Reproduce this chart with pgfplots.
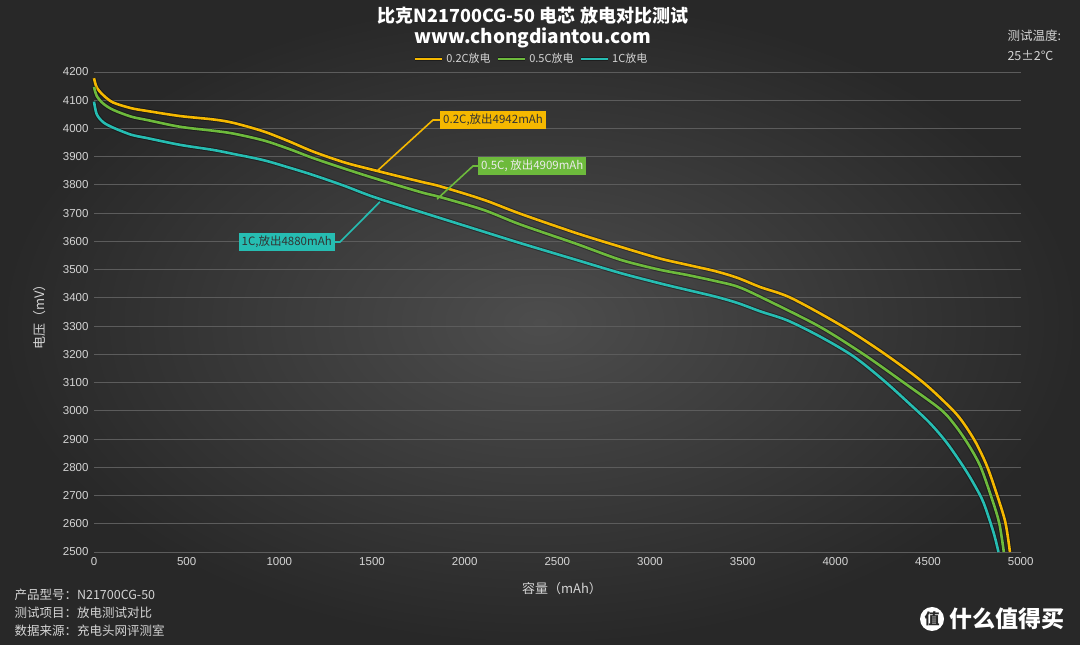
\documentclass[border=0pt]{standalone}
\usepackage{pgfplots}
\pgfplotsset{compat=1.18}
\usepackage{fontspec}
\setmainfont{Liberation Sans}
\newfontfamily\cjk{Noto Sans CJK SC}
\definecolor{bgin}{HTML}{4D4D4D}
\definecolor{bgout}{HTML}{282828}
\definecolor{gridc}{HTML}{5C5C5C}
\definecolor{lbl}{HTML}{D4D4D4}
\definecolor{c02}{HTML}{F5B800}
\definecolor{c05}{HTML}{6DBA3C}
\definecolor{c1}{HTML}{26BDB2}
\begin{document}
\begin{tikzpicture}[x=1pt,y=1pt]
\shade[inner color=bgin, outer color=bgout] (0,0) rectangle (1080,645);
\path[use as bounding box] (0,0) rectangle (1080,645);
\begin{axis}[
  at={(94pt,93pt)}, anchor=south west,
  width=926.7pt, height=480pt, scale only axis,
  xmin=0, xmax=5000, ymin=2500, ymax=4200,
  xtick={0,500,...,5000}, ytick={2500,2600,...,4200},
  axis line style={draw=none}, major tick style={draw=none},
  ymajorgrids, grid style={color=gridc, line width=0.9pt},
  /pgf/number format/1000 sep={},
  /pgf/number format/assume math mode=true,
  ticklabel style={font=\fontsize{11.5}{13}\selectfont, text=lbl},
  xticklabel style={yshift=-2pt},
  yticklabel style={xshift=-2pt},
  clip=false,
  every axis plot/.append style={line width=2.6pt, line join=round,
    smooth, tension=0.5,
    preaction={draw=black, opacity=0.35, line width=4.6pt}},
  legend style={at={(0.4716,1.027)}, anchor=center, draw=none, fill=none,
    legend columns=-1, text=lbl, font=\cjk\fontsize{11}{12}\selectfont,
    /tikz/every even column/.append style={column sep=3pt},
    inner sep=0pt},
  legend image code/.code={\draw[#1, line width=2.6pt, sharp plot] (0pt,0pt) -- (27pt,0pt);},
]
% 0.2C
\addplot[color=c02] coordinates {
(0,4178) (15,4145) (50,4118) (103,4092) (200,4072) (286,4062) (464,4044)
(643,4032) (751,4020) (913,3990) (1050,3955) (1183,3918) (1350,3880)
(1507,3853) (1760,3812) (1868,3795) (2100,3748) (2300,3698) (2600,3630)
(2840,3581) (3050,3540) (3202,3517) (3350,3495) (3472,3471) (3596,3438)
(3760,3400) (4037,3300) (4270,3200) (4475,3100) (4630,3005) (4693,2955)
(4760,2885) (4820,2801) (4876,2695) (4918,2603) (4942,2500)};
% 0.5C
\addplot[color=c05] coordinates {
(0,4147) (15,4115) (50,4088) (103,4066) (200,4042) (286,4030) (464,4006)
(643,3992) (751,3982) (913,3958) (1050,3928) (1183,3895) (1350,3858)
(1507,3825) (1760,3775) (1868,3757) (2100,3712) (2300,3660) (2600,3592)
(2840,3535) (3050,3500) (3202,3481) (3350,3460) (3472,3440) (3607,3400)
(3910,3300) (4153,3200) (4369,3100) (4568,3005) (4650,2945) (4720,2878)
(4784,2801) (4849,2680) (4885,2600) (4909,2500)};
% 1C
\addplot[color=c1] coordinates {
(0,4095) (15,4050) (50,4022) (103,4003) (200,3978) (286,3966) (464,3942)
(643,3924) (751,3910) (913,3888) (1050,3862) (1183,3835) (1350,3797)
(1507,3758) (1760,3705) (2100,3635) (2300,3594) (2600,3535) (2840,3488)
(3050,3452) (3202,3428) (3350,3405) (3472,3382) (3596,3352) (3742,3320)
(3920,3262) (4100,3192) (4260,3108) (4400,3025) (4508,2958) (4600,2888)
(4692,2801) (4750,2738) (4800,2674) (4854,2568) (4880,2500)};
\legend{0.2C放电,0.5C放电,1C放电}
% annotations
\draw[c02, line width=1.6pt] (axis cs:1527,3849) -- (axis cs:1829,4030) -- (axis cs:1867,4030);
\node[fill=c02, anchor=west, inner sep=3pt, text=black!80,
  font=\cjk\fontsize{11.5}{13}\selectfont] at (axis cs:1867,4030) {0.2C,放出4942mAh};
\draw[c05, line width=1.6pt] (axis cs:1851,3750) -- (axis cs:2045,3867) -- (axis cs:2072,3867);
\node[fill=c05, anchor=west, inner sep=3pt, text=white!92!black,
  font=\cjk\fontsize{11.5}{13}\selectfont] at (axis cs:2072,3867) {0.5C, 放出4909mAh};
\draw[c1, line width=1.6pt] (axis cs:1543,3740) -- (axis cs:1327,3598) -- (axis cs:1300,3598);
\node[fill=c1, anchor=east, inner sep=3pt, text=black!80,
  font=\cjk\fontsize{11.5}{13}\selectfont] at (axis cs:1300,3598) {1C,放出4880mAh};
\end{axis}
% titles and notes
\node[text=white, font=\cjk\bfseries\fontsize{18}{20}\selectfont] at (533,629) {比克N21700CG-50 电芯 放电对比测试};
\node[text=white, font=\cjk\bfseries\fontsize{19}{21}\selectfont] at (533,607) {www.chongdiantou.com};
\node[text=lbl, anchor=west, font=\cjk\fontsize{12.5}{14}\selectfont] at (1004,609) {测试温度:};
\node[text=lbl, anchor=west, font=\cjk\fontsize{12.5}{14}\selectfont] at (1004,589) {25±2℃};
\node[text=lbl, rotate=90, font=\cjk\fontsize{13}{15}\selectfont] at (40,331) {电压（mV）};
\node[text=lbl, font=\cjk\fontsize{13}{15}\selectfont] at (562,56) {容量（mAh）};
\node[text=lbl, anchor=west, font=\cjk\fontsize{12.5}{14}\selectfont] at (11,50) {产品型号：N21700CG-50};
\node[text=lbl, anchor=west, font=\cjk\fontsize{12.5}{14}\selectfont] at (11,32) {测试项目：放电测试对比};
\node[text=lbl, anchor=west, font=\cjk\fontsize{12.5}{14}\selectfont] at (11,14) {数据来源：充电头网评测室};
\fill[white] (932,26) circle (12);
\node[text=bgout, font=\cjk\bfseries\fontsize{15}{16}\selectfont] at (932,26) {值};
\node[text=white, anchor=west, font=\cjk\bfseries\fontsize{23}{25}\selectfont] at (946,26) {什么值得买};
\end{tikzpicture}
\end{document}
